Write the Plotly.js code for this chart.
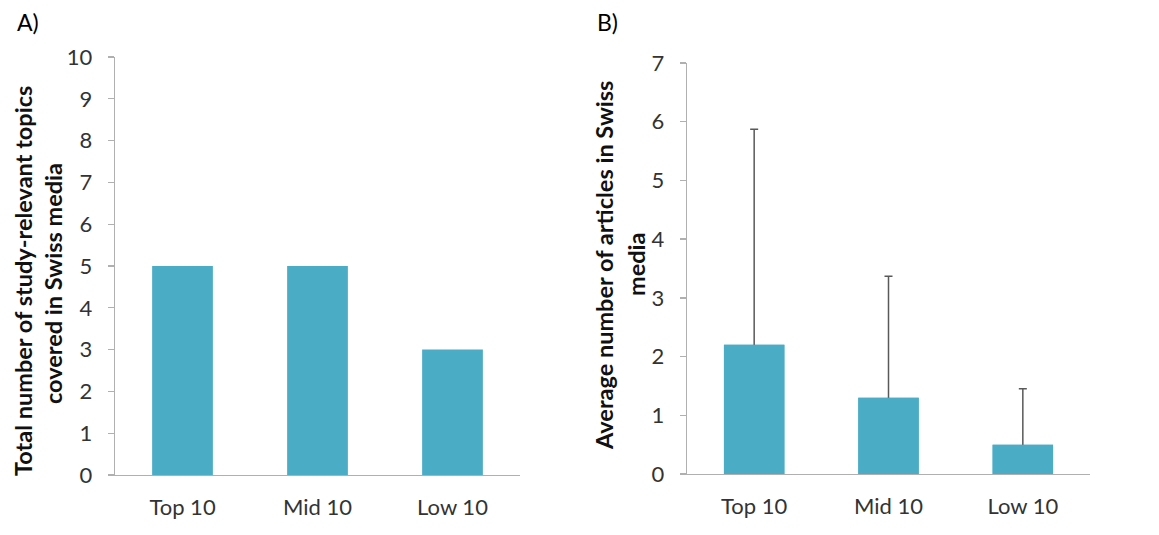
<!DOCTYPE html>
<html>
<head>
<meta charset="utf-8">
<script src="https://cdn.plot.ly/plotly-3.0.1.min.js"></script>
<style>html,body{margin:0;padding:0;background:#fff}#chart{width:1159px;height:535px}</style>
</head>
<body>
<div id="chart"></div>
<script>
const categories = ["Top 10", "Mid 10", "Low 10"];
const topicsTotal = [5, 5, 3];
const articlesAverage = [2.2, 1.3, 0.5];
const articlesErrorPlus = [3.67, 2.07, 0.95];
const yTicksA = [0,1,2,3,4,5,6,7,8,9,10];
const yTicksB = [0,1,2,3,4,5,6,7];

const W = 1159, H = 535;
const barColor = '#4BACC6';
const FONT = 'Lato, "Open Sans", sans-serif';

const traces = [
  {type:'bar', x:categories, y:topicsTotal, xaxis:'x', yaxis:'y',
   marker:{color:barColor}, hoverinfo:'none'},
  // bars with upward error bars (lower end hidden inside the bar)
  {type:'bar', x:categories, y:articlesAverage, xaxis:'x2', yaxis:'y2',
   marker:{color:barColor}, hoverinfo:'none',
   error_y:{type:'data', symmetric:false, array:articlesErrorPlus,
            arrayminus:articlesAverage.map(v => v / 2),
            color:'#595959', thickness:1.5, width:4}},
  // same bars drawn again on top to hide the lower part of the error bars
  {type:'bar', x:categories, y:articlesAverage, xaxis:'x2', yaxis:'y2',
   marker:{color:barColor}, hoverinfo:'none'}
];

const axisLine = '#B0B0B0';
const tickFont = {family:FONT, size:22, color:'#333333'};
const xCommon = {type:'category', showline:true, linecolor:axisLine, linewidth:1.3,
  ticks:'', showgrid:false, zeroline:false, tickfont:tickFont, ticklabelstandoff:12, fixedrange:true};
const yCommon = {showline:true, linecolor:axisLine, linewidth:1.3, ticks:'outside', ticklen:6,
  tickcolor:axisLine, tickwidth:1.3, showgrid:false, zeroline:false, tickfont:tickFont,
  ticklabelstandoff:11, fixedrange:true};

const titleFont = {family:FONT, size:23.5, color:'#111'};
const layout = {
  width:W, height:H, margin:{l:0,r:0,t:0,b:0},
  paper_bgcolor:'#fff', plot_bgcolor:'#fff', showlegend:false, bargap:0.55, barmode:'overlay',
  font:{family:FONT},
  xaxis: Object.assign({}, xCommon, {domain:[115/W, 520/W], anchor:'y'}),
  yaxis: Object.assign({}, yCommon, {domain:[1-475/H, 1-57/H], anchor:'x', range:[0,10],
          tickvals:yTicksA, ticktext:yTicksA.map(String)}),
  xaxis2: Object.assign({}, xCommon, {domain:[687/W, 1090/W], anchor:'y2'}),
  yaxis2: Object.assign({}, yCommon, {domain:[1-474/H, 1-63/H], anchor:'x2', range:[0,7],
          tickvals:yTicksB, ticktext:yTicksB.map(String)}),
  annotations:[
    {text:'A)', x:15/W, y:1-22/H, xref:'paper', yref:'paper', xanchor:'left', yanchor:'middle',
     showarrow:false, font:{family:FONT, size:23, color:'#000'}},
    {text:'B)', x:595/W, y:1-22/H, xref:'paper', yref:'paper', xanchor:'left', yanchor:'middle',
     showarrow:false, font:{family:FONT, size:23, color:'#000'}},
    {text:'<b>Total number of study-relevant topics</b>', x:23/W, y:1-281/H, xref:'paper', yref:'paper',
     xanchor:'center', yanchor:'middle', textangle:-90, showarrow:false, font:titleFont},
    {text:'<b>covered in Swiss media</b>', x:53/W, y:1-284/H, xref:'paper', yref:'paper',
     xanchor:'center', yanchor:'middle', textangle:-90, showarrow:false, font:titleFont},
    {text:'<b>Average number of articles in Swiss</b>', x:604/W, y:1-266/H, xref:'paper', yref:'paper',
     xanchor:'center', yanchor:'middle', textangle:-90, showarrow:false, font:titleFont},
    {text:'<b>media</b>', x:636/W, y:1-265/H, xref:'paper', yref:'paper',
     xanchor:'center', yanchor:'middle', textangle:-90, showarrow:false, font:titleFont}
  ]
};

Plotly.newPlot('chart', traces, layout, {displayModeBar:false, staticPlot:true});
</script>
</body>
</html>
